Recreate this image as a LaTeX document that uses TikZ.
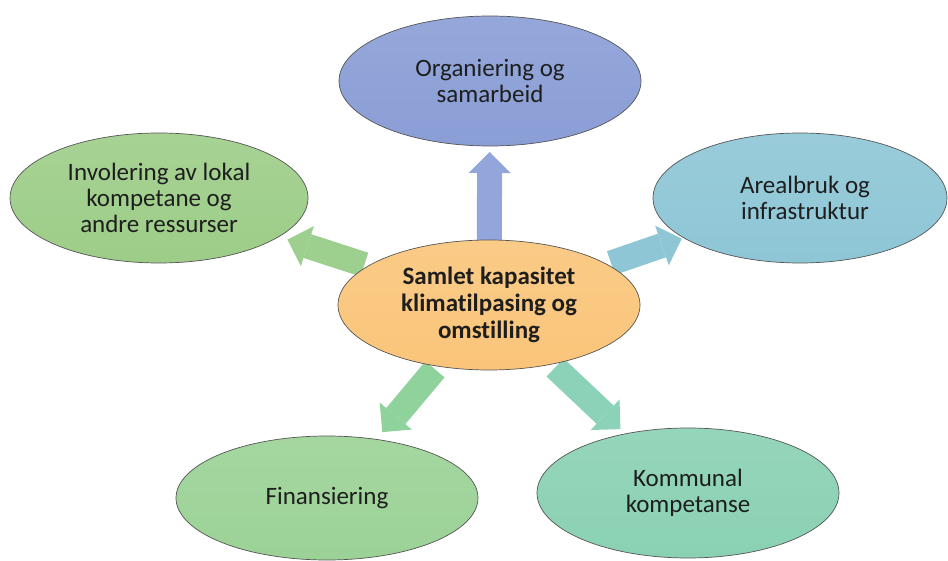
\documentclass[tikz,border=0pt]{standalone}
\usepackage{fontspec}
\setmainfont{Carlito}[Ligatures=NoCommon]
\usetikzlibrary{shapes.geometric,arrows.meta}
\pgfdeclarelayer{bg}
\pgfsetlayers{bg,main}
\definecolor{txt}{HTML}{1E1E1E}
\definecolor{edge}{HTML}{555555}
\definecolor{cTop}{HTML}{8A9ED6}
\definecolor{cMid}{HTML}{FAC57A}
\definecolor{cLeft}{HTML}{9DCD88}
\definecolor{cRight}{HTML}{8EC6D6}
\definecolor{cFin}{HTML}{9BD296}
\definecolor{cKom}{HTML}{8AD1B3}
\definecolor{aTop}{HTML}{93A6DB}
\definecolor{aLeft}{HTML}{9DCF8F}
\definecolor{aRight}{HTML}{8FC6D5}
\definecolor{aFin}{HTML}{90D29B}
\definecolor{aKom}{HTML}{8CD2B8}
\tikzset{
  oval/.style={ellipse, draw=edge, line width=0.7pt, inner sep=0pt,
    minimum width=302pt, minimum height=130pt, align=center, text=txt,
    font=\fontsize{25pt}{26pt}\selectfont},
  fat/.style={line width=25pt, -{Triangle[width=42pt,length=21pt,line width=0pt]}}
}
\begin{document}
\begin{tikzpicture}[x=1pt,y=-1pt]
\useasboundingbox (0,0) rectangle (948,561);
\node[oval, top color=cTop!90!white, bottom color=cTop] (org) at (490,81) {Organiering og\\samarbeid};
\node[oval, top color=cMid!90!white, bottom color=cMid, font=\bfseries\fontsize{25pt}{27pt}\selectfont] (c) at (489,305) {Samlet kapasitet\\klimatilpasing og\\omstilling};
\node[oval, top color=cLeft!90!white, bottom color=cLeft, minimum width=298pt] (inv) at (159,198) {Involering av lokal\\kompetane og\\andre ressurser};
\node[oval, top color=cRight!90!white, bottom color=cRight, minimum width=294pt] (are) at (800,198) {\hspace*{10pt}Arealbruk og\\\hspace*{10pt}infrastruktur};
\node[oval, top color=cFin!90!white, bottom color=cFin, minimum height=124pt] (fin) at (327,498) {Finansiering};
\node[oval, top color=cKom!90!white, bottom color=cKom] (kom) at (688,493) {Kommunal\\kompetanse};
\begin{pgfonlayer}{bg}
\draw[fat, draw=aTop, fill=aTop, shorten <=62pt, shorten >=71pt] (c.center) -- (org.center);
\draw[fat, draw=aLeft, fill=aLeft, shorten <=131pt, shorten >=135pt] (c.center) -- (inv.center);
\draw[fat, draw=aRight, fill=aRight, shorten <=129pt, shorten >=125pt] (c.center) -- (are.center);
\draw[fat, draw=aFin, fill=aFin, shorten <=84pt, shorten >=86pt] (c.center) -- (fin.center);
\draw[fat, draw=aKom, fill=aKom, shorten <=91pt, shorten >=93pt] (c.center) -- (kom.center);
\end{pgfonlayer}
\end{tikzpicture}
\end{document}
